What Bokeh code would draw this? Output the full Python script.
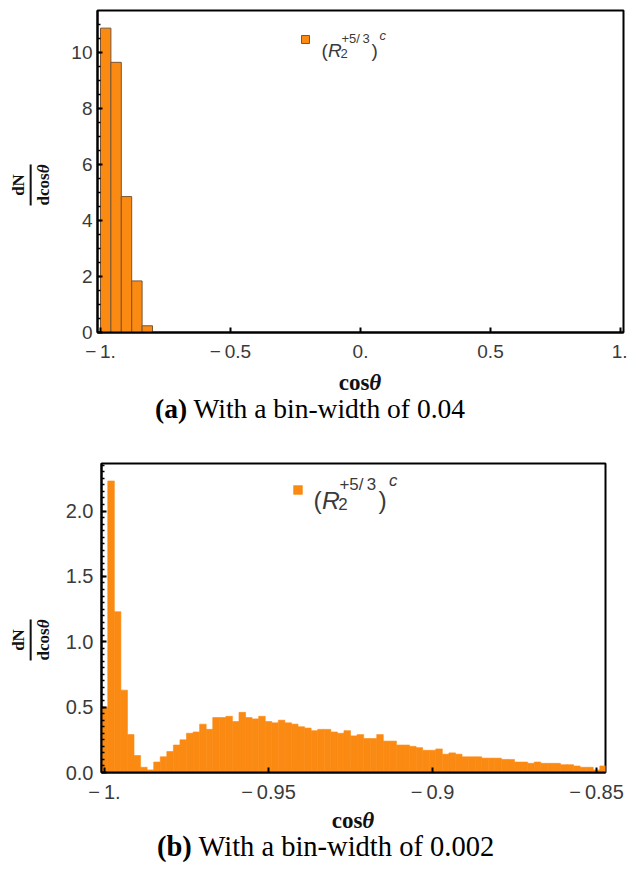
import numpy as np
from bokeh.plotting import figure
from bokeh.models import Label, Legend, LegendItem, FixedTicker, Range1d, Div
from bokeh.layouts import column, row
from bokeh.embed import file_html
from bokeh.resources import INLINE

# ---------------- data ----------------
# Panel (a): density histogram, bin width 0.04
a_bin_left = [-1.00, -0.96, -0.92, -0.88, -0.84]
a_bin_width = 0.04
a_density = [10.86, 9.64, 4.85, 1.84, 0.24]

# Panel (b): density histogram, bin width 0.002 (first bin centred on -1.000)
b_first_centre = -1.000
b_bin_width = 0.002
b_density = [0.50, 2.23, 1.23, 0.63, 0.29, 0.13, 0.04, 0.02, 0.08, 0.12,
             0.16, 0.21, 0.25, 0.30, 0.31, 0.37, 0.33, 0.42, 0.42, 0.43,
             0.39, 0.46, 0.42, 0.41, 0.43, 0.39, 0.38, 0.40, 0.38, 0.37,
             0.35, 0.34, 0.32, 0.33, 0.33, 0.31, 0.30, 0.32, 0.28, 0.29,
             0.26, 0.26, 0.29, 0.24, 0.24, 0.21, 0.21, 0.20, 0.19, 0.17,
             0.17, 0.18, 0.14, 0.15, 0.14, 0.12, 0.12, 0.12, 0.11, 0.11,
             0.11, 0.10, 0.10, 0.08, 0.08, 0.07, 0.08, 0.07, 0.07, 0.07,
             0.06, 0.06, 0.05, 0.04, 0.04, 0.02, 0.05]

a_xticks = [-1.0, -0.5, 0.0, 0.5, 1.0]
a_xtick_labels = ["\u2212\u20091.", "\u2212\u20090.5", "0.", "0.5", "1."]
a_yticks = [0, 2, 4, 6, 8, 10]
a_ytick_labels = ["0", "2", "4", "6", "8", "10"]
a_yminor = [0.5 * i for i in range(1, 23)]

b_xticks = [-1.0, -0.95, -0.9, -0.85]
b_xtick_labels = ["\u2212\u20091.", "\u2212\u20090.95", "\u2212\u20090.9", "\u2212\u20090.85"]
b_yticks = [0.0, 0.5, 1.0, 1.5, 2.0]
b_ytick_labels = ["0.0", "0.5", "1.0", "1.5", "2.0"]
b_yminor = [0.05 * i for i in range(1, 48)]

x_title = "cos<i>\u03b8</i>"
y_title_num = "dN"
y_title_den = "dcos<i>\u03b8</i>"
caption_a = ("(a)", "With a bin-width of 0.04")
caption_b = ("(b)", "With a bin-width of 0.002")

# ---------------- style ----------------
ORANGE = "#FB8A12"
EDGE = "#7a5634"
TICK_COLOR = "#3a3a3a"
SANS = "Liberation Sans"
SERIF = "Liberation Serif"
PAGE_W = 627
YLAB_W = 58


def make_panel(width, height, borders, xr, yr, xticks, xlabels, yticks, ylabels, yminor,
               tick_size, ystand):
    l, r, t, b = borders
    p = figure(width=width, height=height, x_range=Range1d(*xr), y_range=Range1d(*yr),
               output_backend="svg", toolbar_location=None,
               min_border_left=l, min_border_right=r, min_border_top=t, min_border_bottom=b)
    p.grid.visible = False
    p.outline_line_color = "black"
    p.outline_line_width = 2
    p.border_fill_color = "white"
    p.background_fill_color = "white"
    p.xaxis.ticker = FixedTicker(ticks=xticks)
    p.xaxis.major_label_overrides = dict(zip(xticks, xlabels))
    p.yaxis.ticker = FixedTicker(ticks=yticks, minor_ticks=yminor)
    p.yaxis.major_label_overrides = dict(zip(yticks, ylabels))
    for ax in (p.xaxis, p.yaxis):
        ax.axis_line_color = "black"
        ax.axis_line_width = 2
        ax.major_tick_in = 5
        ax.major_tick_out = 0
        ax.major_tick_line_width = 2
        ax.major_label_text_font = SANS
        ax.major_label_text_font_size = tick_size
        ax.major_label_text_color = TICK_COLOR
    p.xaxis.minor_tick_in = 0
    p.xaxis.minor_tick_out = 0
    p.yaxis.minor_tick_in = 3
    p.yaxis.minor_tick_out = 0
    p.yaxis.minor_tick_line_width = 1.5
    p.xaxis.major_label_standoff = 8
    p.yaxis.major_label_standoff = ystand
    return p


def converter(p, frame_px):
    # map page pixels to data coordinates for in-frame annotation placement
    fl, fr, ft, fb = frame_px
    x0, x1 = p.x_range.start, p.x_range.end
    y0, y1 = p.y_range.start, p.y_range.end
    cx = lambda px: x0 + (px - fl) * (x1 - x0) / (fr - fl)
    cy = lambda py: y0 + (fb - py) * (y1 - y0) / (fb - ft)
    return cx, cy


def lab(p, cx, cy, px, py, text, size, style="normal"):
    p.add_layout(Label(x=cx(px), y=cy(py), text=text, text_font=SANS,
                       text_font_size=size, text_font_style=style, text_color=TICK_COLOR,
                       text_align="left", text_baseline="alphabetic"))


def legend_text(p, cx, cy, x, base, s):
    # s: scale factor of the legend typography
    big, small = f"{19 * s:.1f}px", f"{13 * s:.1f}px"
    lab(p, cx, cy, x, base, "(", big)
    lab(p, cx, cy, x + 6.5 * s, base, "R", big, "italic")
    lab(p, cx, cy, x + 19 * s, base + 3 * s, "2", small)
    lab(p, cx, cy, x + 20 * s, base - 12 * s, "+5/\u20093", small)
    lab(p, cx, cy, x + 50 * s, base, ")", big)
    lab(p, cx, cy, x + 58 * s, base - 15 * s, "c", small, "italic")


def legend_swatch(p, r, loc, size):
    p.add_layout(Legend(items=[LegendItem(label=" ", renderers=[r])], location=loc,
                        background_fill_alpha=0, border_line_alpha=0, padding=0, margin=0,
                        glyph_width=size, glyph_height=size, label_text_font_size="1px",
                        label_standoff=0, spacing=0, label_width=0, label_height=0))


def ylabel_div(height, cy_px):
    html = (f'<div style="position:relative;width:{YLAB_W}px;height:{height}px">'
            f'<div style="position:absolute;left:31px;top:{cy_px}px;'
            f'transform:translate(-50%,-50%) rotate(-90deg);font-family:\'{SERIF}\';'
            f'font-weight:bold;font-size:17px;line-height:1.05;text-align:center;'
            f'color:#111;white-space:nowrap">'
            f'<div style="border-bottom:2px solid #111;padding:0 1px 2px 1px">{y_title_num}</div>'
            f'<div style="padding-top:3px">{y_title_den}</div></div></div>')
    return Div(text=html, width=YLAB_W, height=height, margin=0)


def caption_div(height, xt_x, xt_y, cap, cap_x, cap_y, cap_size):
    html = (f'<div style="position:relative;width:{PAGE_W}px;height:{height}px;color:#000">'
            f'<div style="position:absolute;left:{xt_x}px;top:{xt_y}px;'
            f'transform:translate(-50%,-50%);font-family:\'{SERIF}\';font-weight:bold;'
            f'font-size:23px;line-height:1;white-space:nowrap;color:#111">{x_title}</div>'
            f'<div style="position:absolute;left:{cap_x}px;top:{cap_y}px;'
            f'transform:translateY(-50%);font-family:\'{SERIF}\';font-size:{cap_size};'
            f'line-height:1;white-space:nowrap"><b>{cap[0]}</b> {cap[1]}</div></div>')
    return Div(text=html, width=PAGE_W, height=height, margin=0)


# ---------------- panel (a) ----------------
# frame in page pixels: left 97, right 623, top 10, bottom 334
pa = make_panel(PAGE_W - YLAB_W, 364, (97 - YLAB_W, 4, 10, 30), (-1.01154, 1.01154),
                (0, 324 / 28.2), a_xticks, a_xtick_labels, a_yticks, a_ytick_labels,
                a_yminor, "19px", 5)
a_left = np.array(a_bin_left)
ra = pa.quad(left=a_left, right=a_left + a_bin_width, bottom=0, top=a_density,
             fill_color=ORANGE, line_color=EDGE, line_width=1)
legend_swatch(pa, ra, (203, 288), 10)
cxa, cya = converter(pa, (97, 623, 10, 334))
legend_text(pa, cxa, cya, 321, 50, 1.0)

# ---------------- panel (b) ----------------
# frame in page pixels: left 101, right 605, top 463, bottom 775
pb = make_panel(PAGE_W - YLAB_W, 352, (101 - YLAB_W, 22, 10, 30), (-1.000915, -0.84726),
                (0, 312 / 132), b_xticks, b_xtick_labels, b_yticks, b_ytick_labels,
                b_yminor, "20px", 8)
centres = b_first_centre + b_bin_width * np.arange(len(b_density))
rb = pb.quad(left=centres - b_bin_width / 2, right=centres + b_bin_width / 2, bottom=0,
             top=b_density, fill_color=ORANGE, line_color=ORANGE, line_width=0.6)
legend_swatch(pb, rb, (191, 277), 11)
cxb, cyb = converter(pb, (101, 605, 463, 775))
legend_text(pb, cxb, cyb, 313, 500, 1.3)

layout = column(
    row(ylabel_div(364, 185), pa, spacing=0),
    caption_div(89, 360, 18, caption_a, 155, 45, "27.5px"),
    row(ylabel_div(352, 187), pb, spacing=0),
    caption_div(66, 353, 15, caption_b, 157, 42, "28.5px"),
    spacing=0,
)
open("out.html", "w").write(file_html(layout, INLINE))
